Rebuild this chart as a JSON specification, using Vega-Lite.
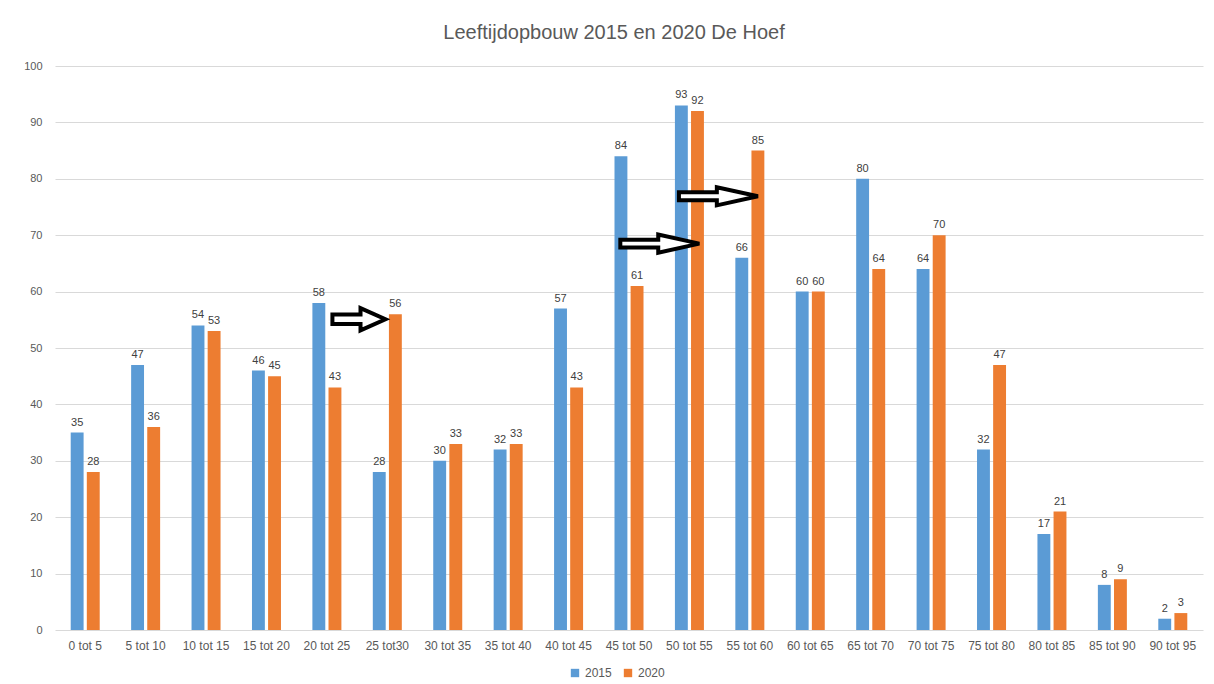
{
  "$schema": "https://vega.github.io/schema/vega-lite/v6.json",
  "width": 1148,
  "height": 564,
  "autosize": "none",
  "padding": {"left": 55, "top": 66, "right": 11, "bottom": 54},
  "background": "white",
  "config": {"font": "Liberation Sans", "view": {"stroke": null}},
  "title": {"text": "Leeftijdopbouw 2015 en 2020 De Hoef", "fontSize": 20, "fontWeight": "normal", "color": "#595959", "offset": 17, "dx": -15},
  "datasets": {
    "bars": [
      {"groep": "0 tot 5", "jaar": "2015", "aantal": 35}, {"groep": "0 tot 5", "jaar": "2020", "aantal": 28},
      {"groep": "5 tot 10", "jaar": "2015", "aantal": 47}, {"groep": "5 tot 10", "jaar": "2020", "aantal": 36},
      {"groep": "10 tot 15", "jaar": "2015", "aantal": 54}, {"groep": "10 tot 15", "jaar": "2020", "aantal": 53},
      {"groep": "15 tot 20", "jaar": "2015", "aantal": 46}, {"groep": "15 tot 20", "jaar": "2020", "aantal": 45},
      {"groep": "20 tot 25", "jaar": "2015", "aantal": 58}, {"groep": "20 tot 25", "jaar": "2020", "aantal": 43},
      {"groep": "25 tot30", "jaar": "2015", "aantal": 28}, {"groep": "25 tot30", "jaar": "2020", "aantal": 56},
      {"groep": "30 tot 35", "jaar": "2015", "aantal": 30}, {"groep": "30 tot 35", "jaar": "2020", "aantal": 33},
      {"groep": "35 tot 40", "jaar": "2015", "aantal": 32}, {"groep": "35 tot 40", "jaar": "2020", "aantal": 33},
      {"groep": "40 tot 45", "jaar": "2015", "aantal": 57}, {"groep": "40 tot 45", "jaar": "2020", "aantal": 43},
      {"groep": "45 tot 50", "jaar": "2015", "aantal": 84}, {"groep": "45 tot 50", "jaar": "2020", "aantal": 61},
      {"groep": "50 tot 55", "jaar": "2015", "aantal": 93}, {"groep": "50 tot 55", "jaar": "2020", "aantal": 92},
      {"groep": "55 tot 60", "jaar": "2015", "aantal": 66}, {"groep": "55 tot 60", "jaar": "2020", "aantal": 85},
      {"groep": "60 tot 65", "jaar": "2015", "aantal": 60}, {"groep": "60 tot 65", "jaar": "2020", "aantal": 60},
      {"groep": "65 tot 70", "jaar": "2015", "aantal": 80}, {"groep": "65 tot 70", "jaar": "2020", "aantal": 64},
      {"groep": "70 tot 75", "jaar": "2015", "aantal": 64}, {"groep": "70 tot 75", "jaar": "2020", "aantal": 70},
      {"groep": "75 tot 80", "jaar": "2015", "aantal": 32}, {"groep": "75 tot 80", "jaar": "2020", "aantal": 47},
      {"groep": "80 tot 85", "jaar": "2015", "aantal": 17}, {"groep": "80 tot 85", "jaar": "2020", "aantal": 21},
      {"groep": "85 tot 90", "jaar": "2015", "aantal": 8}, {"groep": "85 tot 90", "jaar": "2020", "aantal": 9},
      {"groep": "90 tot 95", "jaar": "2015", "aantal": 2}, {"groep": "90 tot 95", "jaar": "2020", "aantal": 3}
    ],
    "pijl_klein": [{"positie": 5.03, "hoogte": 55.1}],
    "pijl_groot": [{"positie": 10.01, "hoogte": 68.5}, {"positie": 10.98, "hoogte": 76.9}]
  },
  "layer": [
    {
      "data": {"name": "bars"},
      "encoding": {
        "x": {
          "field": "groep", "type": "nominal", "sort": null,
          "scale": {"paddingInner": 0.52, "paddingOuter": 0.26},
          "axis": {"title": null, "labelAngle": 0, "labelFontSize": 12, "labelColor": "#595959", "labelPadding": 10, "ticks": false, "domain": false, "grid": false}
        },
        "xOffset": {"field": "jaar", "type": "nominal", "scale": {"paddingInner": 0.2}},
        "y": {
          "field": "aantal", "type": "quantitative",
          "scale": {"domain": [0, 100]},
          "axis": {"title": null, "values": [0, 10, 20, 30, 40, 50, 60, 70, 80, 90, 100], "labelFontSize": 11, "labelColor": "#595959", "labelPadding": 13, "ticks": false, "domain": false, "grid": true, "gridColor": "#d9d9d9", "gridWidth": 1}
        },
        "color": {
          "field": "jaar", "type": "nominal",
          "scale": {"domain": ["2015", "2020"], "range": ["#5B9BD5", "#ED7D31"]},
          "legend": {"title": null, "orient": "none", "legendX": 514, "legendY": 601, "direction": "horizontal", "symbolType": "square", "symbolSize": 70, "symbolStrokeWidth": 0, "labelFontSize": 12, "labelColor": "#595959", "columnPadding": 10}
        }
      },
      "layer": [
        {"mark": {"type": "bar"}},
        {"mark": {"type": "text", "baseline": "bottom", "dy": -5, "fontSize": 11, "color": "#404040"}, "encoding": {"text": {"field": "aantal"}, "color": {"value": "#404040"}}}
      ]
    },
    {
      "data": {"name": "pijl_klein"},
      "mark": {"type": "point", "filled": false, "fill": "white", "fillOpacity": 1, "stroke": "black", "strokeWidth": 4, "opacity": 1, "size": 2809, "shape": "M -1 -0.18 L 0.06 -0.18 L 0.06 -0.42 L 1 0 L 0.06 0.42 L 0.06 0.18 L -1 0.18 Z"},
      "encoding": {
        "x": {"field": "positie", "type": "quantitative", "scale": {"domain": [0, 19], "nice": false}, "axis": null},
        "y": {"field": "hoogte", "type": "quantitative", "axis": {"title": null}}
      }
    },
    {
      "data": {"name": "pijl_groot"},
      "mark": {"type": "point", "filled": false, "fill": "white", "fillOpacity": 1, "stroke": "black", "strokeWidth": 4, "opacity": 1, "size": 6241, "shape": "M -1 -0.1 L -0.04 -0.1 L -0.04 -0.23 L 1 0 L -0.04 0.23 L -0.04 0.1 L -1 0.1 Z"},
      "encoding": {
        "x": {"field": "positie", "type": "quantitative", "scale": {"domain": [0, 19], "nice": false}, "axis": null},
        "y": {"field": "hoogte", "type": "quantitative", "axis": {"title": null}}
      }
    }
  ],
  "resolve": {"scale": {"x": "independent"}}
}
